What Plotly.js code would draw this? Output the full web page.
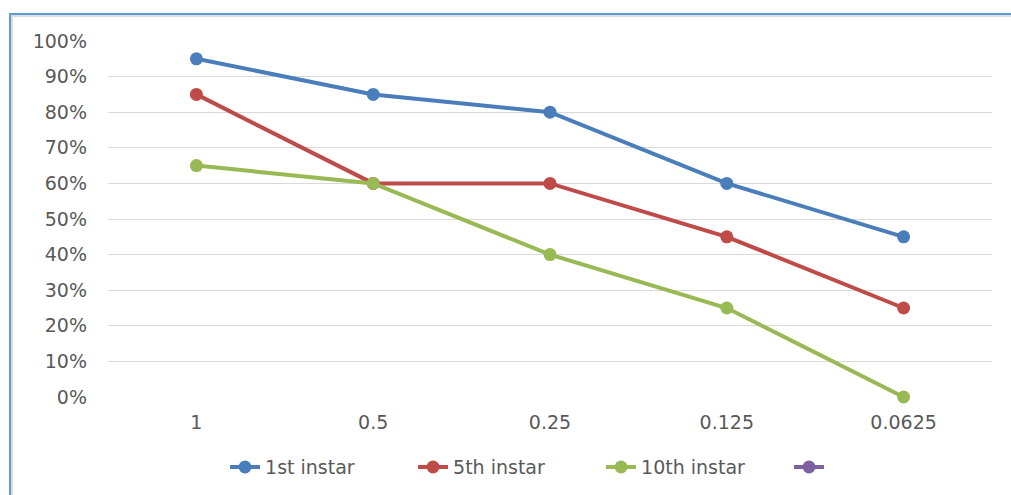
<!DOCTYPE html>
<html>
<head>
<meta charset="utf-8">
<script src="https://cdn.plot.ly/plotly-3.0.1.min.js"></script>
<style>
  html, body { margin: 0; padding: 0; background: #fff; }
  #wrap { position: relative; width: 1011px; height: 495px; overflow: hidden; }
  #chart { position: absolute; left: 0; top: 0; width: 1011px; height: 495px; }
  #frame { position: absolute; left: 9px; top: 13px; width: 1020px; height: 500px;
           border-left: 2px solid #5b9bd5; border-top: 2px solid #5b9bd5;
           box-shadow: inset 2px 2px 0 #dcdcdc; pointer-events: none; }
</style>
</head>
<body>
<div id="wrap">
  <div id="chart"></div>
  <div id="frame"></div>
</div>
<script>
const categories = ["1", "0.5", "0.25", "0.125", "0.0625"];
const seriesNames = ["1st instar", "5th instar", "10th instar", ""];
const instar1 = [0.95, 0.85, 0.80, 0.60, 0.45];
const instar5 = [0.85, 0.60, 0.60, 0.45, 0.25];
const instar10 = [0.65, 0.60, 0.40, 0.25, 0.00];
const emptySeries = [null, null, null, null, null];
const colors = ["#4a7ebb", "#be4b48", "#98b954", "#7d60a0"];
const yTickVals = [0, 0.1, 0.2, 0.3, 0.4, 0.5, 0.6, 0.7, 0.8, 0.9, 1.0];
const yTickText = ["0%", "10%", "20%", "30%", "40%", "50%", "60%", "70%", "80%", "90%", "100%"];

const allSeries = [instar1, instar5, instar10, emptySeries];
const traces = allSeries.map((ys, i) => ({
  type: "scatter",
  mode: "lines+markers",
  x: categories,
  y: ys,
  name: seriesNames[i],
  line: { color: colors[i], width: 4 },
  marker: { color: colors[i], size: 13 },
  showlegend: true,
  cliponaxis: false
}));

const font = { family: "DejaVu Sans, sans-serif", size: 19, color: "#595959" };

const layout = {
  width: 1011,
  height: 495,
  margin: { l: 108, r: 19, t: 41, b: 98, autoexpand: false },
  paper_bgcolor: "#ffffff",
  plot_bgcolor: "#ffffff",
  font: font,
  showlegend: true,
  xaxis: {
    type: "category",
    range: [-0.5, 4.5],
    showgrid: false,
    zeroline: false,
    showline: false,
    ticks: "",
    tickfont: font,
    ticklabelstandoff: 12,
    fixedrange: true
  },
  yaxis: {
    range: [0, 1],
    tickvals: yTickVals,
    ticktext: yTickText,
    showgrid: true,
    gridcolor: "#d9d9d9",
    gridwidth: 1,
    zeroline: false,
    showline: false,
    ticks: "",
    tickfont: font,
    ticklabelstandoff: 20,
    fixedrange: true
  },
  legend: {
    orientation: "h",
    x: 0.1324,
    xanchor: "left",
    y: -0.197,
    yanchor: "middle",
    font: font,
    bgcolor: "rgba(0,0,0,0)",
    itemwidth: 30,
    entrywidth: 143,
    entrywidthmode: "pixels"
  }
};

Plotly.newPlot("chart", traces, layout, { displayModeBar: false, staticPlot: true });
</script>
</body>
</html>
